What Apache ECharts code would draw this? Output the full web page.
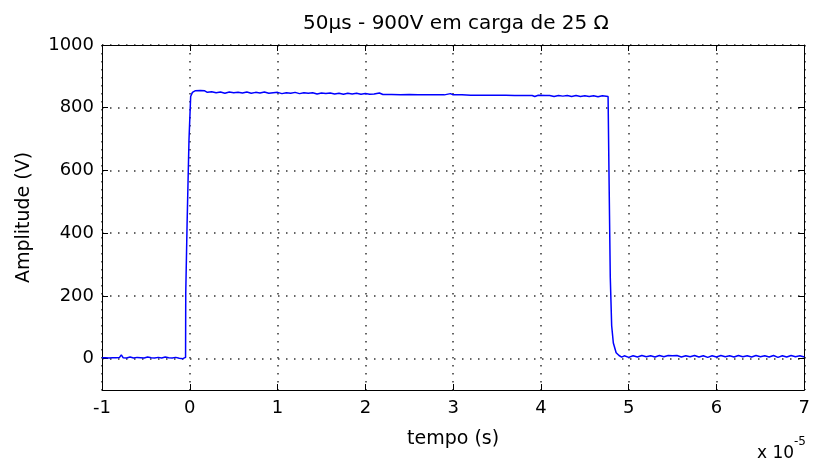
<!DOCTYPE html>
<html>
<head>
<meta charset="utf-8">
<script src="https://cdn.jsdelivr.net/npm/echarts@6/dist/echarts.min.js"></script>
<style>html,body{margin:0;padding:0;background:#fff;}#c{width:813px;height:466px;}</style>
</head>
<body>
<div id="c"></div>
<script>
// time in units of 1e-5 s (axis shows "x 10^-5")
var timeVals = [
  -1.00,-0.96,-0.92,-0.88,-0.84,-0.80,-0.78,-0.76,-0.72,-0.68,-0.64,-0.60,-0.56,-0.52,-0.48,-0.44,-0.40,-0.36,-0.32,-0.28,-0.24,-0.20,-0.16,-0.12,-0.08,-0.06,
  -0.048,-0.046,-0.033,-0.031,-0.011,-0.009,0.008,0.010,0.03,0.06,0.08,0.12,0.17,
  0.20,0.25,0.30,0.35,0.40,0.45,0.50,0.55,0.60,0.65,0.70,0.75,0.80,0.85,0.90,0.95,1.00,1.05,1.10,1.15,1.20,1.25,1.30,1.35,1.40,1.45,1.50,1.55,1.60,1.65,1.70,1.75,1.80,1.85,1.90,1.95,2.00,2.05,2.10,2.16,2.20,2.30,2.40,2.50,2.60,2.70,2.80,2.90,2.97,3.00,3.10,3.20,3.30,3.40,3.50,3.60,3.70,3.80,3.90,3.93,3.97,4.05,4.10,4.15,4.20,4.25,4.30,4.35,4.40,4.45,4.50,4.55,4.60,4.65,4.70,4.765,
  4.775,4.790,4.806,4.825,4.857,4.89,4.92,
  4.95,5.00,5.05,5.10,5.15,5.20,5.25,5.30,5.35,5.40,5.45,5.50,5.55,5.60,5.65,5.70,5.75,5.80,5.85,5.90,5.95,6.00,6.05,6.10,6.15,6.20,6.25,6.30,6.35,6.40,6.45,6.50,6.55,6.60,6.65,6.70,6.75,6.80,6.85,6.90,6.95,7.00
];
var amplitude = [
  3,3,2,3,3,4,12,3,2,5,2,4,3,2,5,3,2,4,2,5,3,2,4,1,0,4,
  4,207,207,426,426,698,698,836,849,854,856,855,854,
  849,851,848,850,846,850,848,849,847,850,846,849,847,850,846,848,849,845,848,846,849,845,848,846,848,844,847,845,847,844,846,843,846,844,846,843,845,843,844,847,842,842,841,842,841,841,841,841,845,841,841,840,840,840,840,840,839,839,839,836,840,839,839,836,839,837,839,836,839,836,838,836,838,835,838,836,
  600,260,105,50,19,10,5,
  9,4,9,5,10,6,9,5,10,6,10,9,10,5,9,6,10,5,9,4,9,5,10,6,9,5,10,6,9,5,10,6,9,5,10,4,9,5,10,6,9,5
];
var xTicks = [-1,0,1,2,3,4,5,6,7];
var yTicks = [0,200,400,600,800,1000];
var yMin = -100;
var titleText = '50\u00b5s - 900V em carga de 25 \u03a9';
var xLabel = 'tempo (s)';
var yLabel = 'Amplitude (V)';

var data = timeVals.map(function(t,i){return [t, amplitude[i]];});
var FONT = 'DejaVu Sans';
var chart = echarts.init(document.getElementById('c'));
var gridLine = {show:true, lineStyle:{color:'#333', width:1.5, type:[1.5,6.5]}};
var axLine = {show:true, onZero:false, lineStyle:{color:'#000', width:1}};
var tick = {show:true, inside:true, length:6, lineStyle:{color:'#000'}};
var yTick = {show:true, inside:true, length:6, lineStyle:{color:'#000'}, customValues:yTicks};
chart.setOption({
  animation:false,
  backgroundColor:'#fff',
  title:{text:titleText, left:451, top:9, textAlign:'center',
    textStyle:{fontFamily:FONT, fontSize:20, fontWeight:'normal', color:'#000'}},
  grid:{left:102, right:6, top:45, bottom:76, containLabel:false},
  xAxis:[{
    type:'value', min:xTicks[0], max:xTicks[xTicks.length-1], interval:1,
    position:'bottom',
    name:xLabel, nameLocation:'middle', nameGap:40,
    nameTextStyle:{fontFamily:FONT, fontSize:19, color:'#000'},
    axisLine:axLine, axisTick:tick, splitLine:gridLine,
    axisLabel:{fontFamily:FONT, fontSize:18, color:'#000', margin:9,
      formatter:function(v){return String(v);}}
  },{
    type:'value', min:xTicks[0], max:xTicks[xTicks.length-1], interval:1,
    position:'top', axisLine:axLine, axisTick:tick, splitLine:{show:false},
    axisLabel:{show:false}
  }],
  yAxis:[{
    type:'value', min:yMin, max:yTicks[yTicks.length-1], interval:100,
    name:yLabel, nameLocation:'middle', nameGap:68, nameRotate:90,
    nameTextStyle:{fontFamily:FONT, fontSize:19, color:'#000'},
    axisLine:axLine, axisTick:yTick, splitLine:gridLine,
    axisLabel:{fontFamily:FONT, fontSize:18, color:'#000', margin:8, customValues:yTicks,
      formatter:function(v){return String(v);}}
  },{
    type:'value', min:yMin, max:yTicks[yTicks.length-1], interval:100,
    position:'right', axisLine:axLine, axisTick:yTick, splitLine:{show:false},
    axisLabel:{show:false}
  }],
  graphic:[{
    type:'text', right:7, top:436,
    style:{text:'{a|x 10}{b|-5}', rich:{
      a:{fontFamily:FONT, fontSize:17, color:'#000', padding:[9,0,0,0]},
      b:{fontFamily:FONT, fontSize:12, color:'#000', verticalAlign:'top'}
    }}
  }],
  series:[{
    type:'line', data:data, showSymbol:false, symbol:'none',
    lineStyle:{color:'#0000ff', width:1.5}, z:5
  }]
});
</script>
</body>
</html>
